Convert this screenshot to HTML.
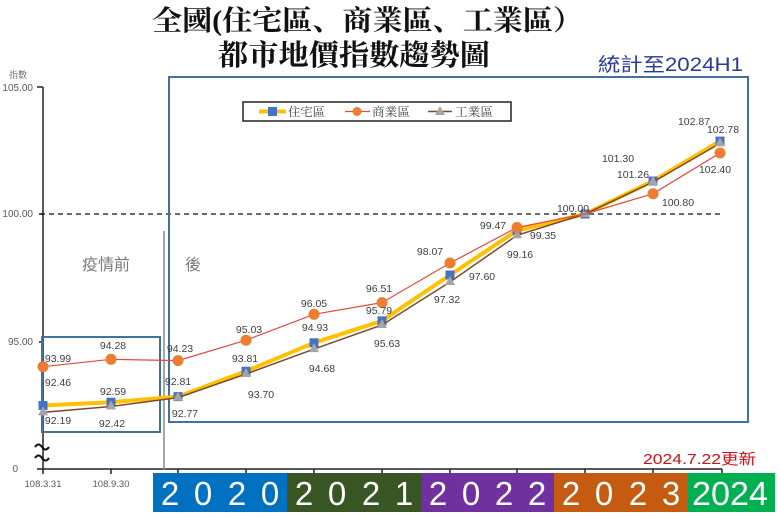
<!DOCTYPE html>
<html><head><meta charset="utf-8"><style>
html,body{margin:0;padding:0;background:#fff;}
svg{display:block;}
</style></head><body>
<svg width="780" height="517" viewBox="0 0 780 517" xmlns="http://www.w3.org/2000/svg">
<rect width="780" height="517" fill="#fff"/>
<!-- Title -->
<text x="152" y="30" font-family="'Liberation Serif','Noto Serif CJK SC','Noto Serif CJK TC','Noto Serif CJK JP',serif" font-weight="bold" font-size="28" fill="#111" textLength="431" lengthAdjust="spacingAndGlyphs">全國(住宅區、商業區、工業區）</text>
<text x="218" y="65" font-family="'Liberation Serif','Noto Serif CJK SC','Noto Serif CJK TC','Noto Serif CJK JP',serif" font-weight="bold" font-size="29" fill="#111" textLength="272" lengthAdjust="spacingAndGlyphs">都市地價指數趨勢圖</text>
<text x="598" y="71" font-family="'Liberation Sans','Noto Sans CJK TC',sans-serif" font-size="19" fill="#2a3a9a" textLength="145" lengthAdjust="spacingAndGlyphs">統計至2024H1</text>

<!-- Y axis labels -->
<text x="18" y="78" text-anchor="middle" font-family="'Liberation Serif','Noto Serif CJK SC',serif" font-size="9" fill="#555">指數</text>
<g font-family="'Liberation Sans',sans-serif" font-size="10" fill="#595959" text-anchor="end">
<text x="33" y="91">105.00</text>
<text x="33" y="217">100.00</text>
<text x="33" y="345">95.00</text>
<text x="18" y="472">0</text>
</g>
<!-- axes -->
<g stroke="#222" stroke-width="1.5" fill="none">
<line x1="43" y1="87" x2="43" y2="470"/>
<line x1="37" y1="87" x2="43" y2="87"/>
<line x1="39" y1="214" x2="43" y2="214"/>
<line x1="39" y1="342" x2="43" y2="342"/>
<line x1="37" y1="469" x2="43" y2="469"/>
<line x1="43" y1="469" x2="722" y2="469"/>
<line x1="43" y1="469" x2="43" y2="474"/>
<line x1="111" y1="469" x2="111" y2="474"/>
<line x1="178" y1="469" x2="178" y2="474"/>
<line x1="246" y1="469" x2="246" y2="474"/>
<line x1="314" y1="469" x2="314" y2="474"/>
<line x1="382" y1="469" x2="382" y2="474"/>
<line x1="450" y1="469" x2="450" y2="474"/>
<line x1="517" y1="469" x2="517" y2="474"/>
<line x1="585" y1="469" x2="585" y2="474"/>
<line x1="653" y1="469" x2="653" y2="474"/>
<line x1="722" y1="469" x2="722" y2="474"/>
</g>
<!-- axis break squiggles -->
<g stroke="#111" stroke-width="2" fill="none">
<path d="M35 447 q3.5 -5 7 0 t7 0"/>
<path d="M35 458 q3.5 -5 7 0 t7 0"/>
</g>
<!-- x labels -->
<g font-family="'Liberation Sans',sans-serif" font-size="9.5" fill="#595959" text-anchor="middle">
<text x="43" y="487">108.3.31</text>
<text x="111" y="487">108.9.30</text>
</g>

<!-- dashed 100 line -->
<line x1="40" y1="214" x2="724" y2="214" stroke="#111" stroke-width="1.2" stroke-dasharray="5,4"/>

<!-- divider -->
<line x1="164" y1="231" x2="164" y2="470" stroke="#888" stroke-width="1.5"/>
<text x="82" y="270" font-family="'Liberation Sans','Noto Sans CJK TC',sans-serif" font-size="16" fill="#7a7a7a">疫情前</text>
<text x="185" y="270" font-family="'Liberation Sans','Noto Sans CJK TC',sans-serif" font-size="16" fill="#7a7a7a">後</text>

<!-- blue boxes -->
<rect x="42" y="337" width="118" height="95" fill="none" stroke="#41719c" stroke-width="2"/>
<rect x="169" y="77" width="579" height="345" fill="none" stroke="#41719c" stroke-width="2"/>

<!-- Legend -->
<rect x="243" y="102" width="268" height="19" fill="#fff" stroke="#222" stroke-width="1.5"/>
<line x1="259" y1="111.5" x2="286" y2="111.5" stroke="#ffc000" stroke-width="4"/>
<rect x="268" y="107" width="9" height="9" fill="#4472c4"/>
<text x="288" y="116" font-family="'Liberation Serif','Noto Serif CJK SC','Noto Serif CJK TC',serif" font-size="12" fill="#444" textLength="37" lengthAdjust="spacingAndGlyphs">住宅區</text>
<line x1="345" y1="111.5" x2="370" y2="111.5" stroke="#e8483a" stroke-width="1.3"/>
<circle cx="357" cy="111.5" r="4.5" fill="#ed7d31"/>
<text x="372" y="116" font-family="'Liberation Serif','Noto Serif CJK SC','Noto Serif CJK TC',serif" font-size="12" fill="#444" textLength="38" lengthAdjust="spacingAndGlyphs">商業區</text>
<line x1="428" y1="111.5" x2="452" y2="111.5" stroke="#7b4a2b" stroke-width="1.5"/>
<polygon points="440,106 445,115 435,115" fill="#a5a5a5"/>
<text x="455" y="116" font-family="'Liberation Serif','Noto Serif CJK SC','Noto Serif CJK TC',serif" font-size="12" fill="#444" textLength="38" lengthAdjust="spacingAndGlyphs">工業區</text>

<!-- Residential -->
<polyline fill="none" stroke="#ffc000" stroke-width="4" stroke-linejoin="round" points="43,405.5 111,402.2 178,396.6 246,371.2 314,342.8 382,320.9 450,275 517,230.5 585,214 653,181 720,141.1"/>
<g fill="#4472c4">
<rect x="38.5" y="401" width="9" height="9"/>
<rect x="106.5" y="397.7" width="9" height="9"/>
<rect x="173.5" y="392.1" width="9" height="9"/>
<rect x="241.5" y="366.7" width="9" height="9"/>
<rect x="309.5" y="338.3" width="9" height="9"/>
<rect x="377.5" y="316.4" width="9" height="9"/>
<rect x="445.5" y="270.5" width="9" height="9"/>
<rect x="512.5" y="226" width="9" height="9"/>
<rect x="580.5" y="209.5" width="9" height="9"/>
<rect x="648.5" y="176.5" width="9" height="9"/>
<rect x="715.5" y="136.6" width="9" height="9"/>
</g>
<!-- Industrial -->
<polyline fill="none" stroke="#7b4a2b" stroke-width="1.5" points="43,412.4 111,406.5 178,397.6 246,374 314,349.1 382,325 450,282 517,235.3 585,214 653,182 720,143.4"/>
<g fill="#a5a5a5">
<polygon points="43,406.4 48,415.4 38,415.4"/>
<polygon points="111,400.5 116,409.5 106,409.5"/>
<polygon points="178,391.6 183,400.6 173,400.6"/>
<polygon points="246,368 251,377 241,377"/>
<polygon points="314,343.1 319,352.1 309,352.1"/>
<polygon points="382,319 387,328 377,328"/>
<polygon points="450,276 455,285 445,285"/>
<polygon points="517,229.3 522,238.3 512,238.3"/>
<polygon points="585,208 590,217 580,217"/>
<polygon points="653,176 658,185 648,185"/>
<polygon points="720,137.4 725,146.4 715,146.4"/>
</g>
<!-- Commercial -->
<polyline fill="none" stroke="#e8483a" stroke-width="1.2" points="43,366.7 111,359.3 178,360.6 246,340.2 314,314.3 382,302.6 450,263 517,227.5 585,214 653,193.7 720,153"/>
<g fill="#ed7d31">
<circle cx="43" cy="366.7" r="5.5"/>
<circle cx="111" cy="359.3" r="5.5"/>
<circle cx="178" cy="360.6" r="5.5"/>
<circle cx="246" cy="340.2" r="5.5"/>
<circle cx="314" cy="314.3" r="5.5"/>
<circle cx="382" cy="302.6" r="5.5"/>
<circle cx="450" cy="263" r="5.5"/>
<circle cx="517" cy="227.5" r="5.5"/>
<circle cx="653" cy="193.7" r="5.5"/>
<circle cx="720" cy="153" r="5.5"/>
</g>

<!-- data labels -->
<g font-family="'Liberation Sans',sans-serif" font-size="10.5" fill="#404040" text-anchor="middle">
<text x="58" y="362">93.99</text>
<text x="58" y="386">92.46</text>
<text x="58" y="424">92.19</text>
<text x="113" y="349">94.28</text>
<text x="113" y="395">92.59</text>
<text x="112" y="427">92.42</text>
<text x="180" y="352">94.23</text>
<text x="178" y="385">92.81</text>
<text x="185" y="417">92.77</text>
<text x="249" y="333">95.03</text>
<text x="245" y="362">93.81</text>
<text x="261" y="398">93.70</text>
<text x="314" y="307">96.05</text>
<text x="315" y="331">94.93</text>
<text x="322" y="372">94.68</text>
<text x="379" y="292">96.51</text>
<text x="379" y="314">95.79</text>
<text x="387" y="347">95.63</text>
<text x="430" y="255">98.07</text>
<text x="447" y="303">97.32</text>
<text x="482" y="280">97.60</text>
<text x="493" y="229">99.47</text>
<text x="543" y="239">99.35</text>
<text x="520" y="258">99.16</text>
<text x="573" y="212">100.00</text>
<text x="618" y="162">101.30</text>
<text x="633" y="178">101.26</text>
<text x="678" y="206">100.80</text>
<text x="694" y="125">102.87</text>
<text x="723" y="133">102.78</text>
<text x="715" y="173">102.40</text>
</g>

<!-- update note -->
<text x="643" y="464" font-family="'Liberation Sans','Noto Sans CJK TC',sans-serif" font-size="15" fill="#d0101a" textLength="113" lengthAdjust="spacingAndGlyphs">2024.7.22更新</text>

<!-- Year bar -->
<rect x="153" y="473" width="134" height="39" fill="#0070c0"/>
<rect x="287" y="473" width="134" height="39" fill="#375623"/>
<rect x="421" y="473" width="133" height="39" fill="#7030a0"/>
<rect x="554" y="473" width="134" height="39" fill="#c55a11"/>
<rect x="688" y="473" width="87" height="39" fill="#00b050"/>
<g font-family="'Liberation Sans',sans-serif" font-size="33" fill="#fff" text-anchor="middle">
<text x="170" y="505">2</text><text x="203" y="505">0</text><text x="237" y="505">2</text><text x="270" y="505">0</text>
<text x="304" y="505">2</text><text x="337" y="505">0</text><text x="371" y="505">2</text><text x="404" y="505">1</text>
<text x="438" y="505">2</text><text x="471" y="505">0</text><text x="504" y="505">2</text><text x="537" y="505">2</text>
<text x="571" y="505">2</text><text x="604" y="505">0</text><text x="638" y="505">2</text><text x="671" y="505">3</text>
<text x="730" y="505" textLength="76" lengthAdjust="spacingAndGlyphs">2024</text>
</g>
</svg>
</body></html>
